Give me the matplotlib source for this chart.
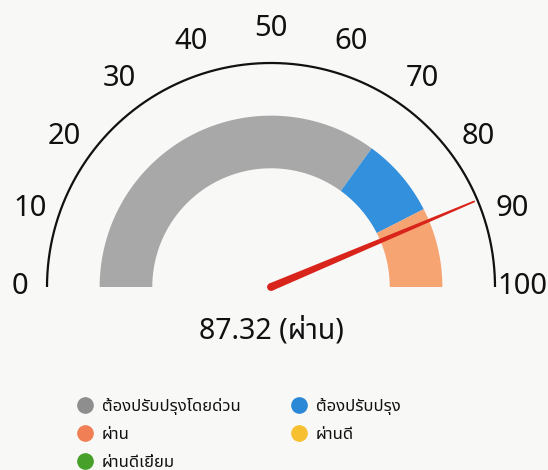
import numpy as np
import matplotlib
matplotlib.use("Agg")
import matplotlib.pyplot as plt
from matplotlib.patches import Polygon, Circle
from matplotlib.lines import Line2D

plt.rcParams['font.family'] = ['Noto Sans Thai', 'Noto Sans', 'DejaVu Sans']

# ---- data ----
band_starts = [0, 70, 85]
band_ends = [70, 85, 100]
band_colors = ['#a8a8a8', '#3290dc', '#f6a472']
value = 87.32
status = 'ผ่าน'
tick_values = [0, 10, 20, 30, 40, 50, 60, 70, 80, 90, 100]
tick_labels = ['0', '10', '20', '30', '40', '50', '60', '70', '80', '90', '100']
legend_labels = ['ต้องปรับปรุงโดยด่วน', 'ต้องปรับปรุง', 'ผ่าน', 'ผ่านดี', 'ผ่านดีเยี่ยม']
legend_colors = ['#8e8e8e', '#2a88d6', '#f07f55', '#f6c030', '#46a02a']
vmin, vmax = 0, 100

W, H = 548, 470
fig = plt.figure(figsize=(W / 100, H / 100), dpi=100)
fig.patch.set_facecolor('#f8f8f7')
ax = fig.add_axes([0, 0, 1, 1])
ax.set_facecolor('#f8f8f7')
cx_px, cy_px, R_px = 271, 287, 224
ax.set_xlim(-cx_px / R_px, (W - cx_px) / R_px)
ax.set_ylim((cy_px - H) / R_px, cy_px / R_px)
ax.axis('off')


def ang(v):
    return np.pi * (1 - (v - vmin) / (vmax - vmin))


r_in, r_out = 0.53, 0.765
for s, e, c in zip(band_starts, band_ends, band_colors):
    t = np.linspace(ang(s), ang(e), 80)
    xs = np.concatenate([r_out * np.cos(t), r_in * np.cos(t[::-1])])
    ys = np.concatenate([r_out * np.sin(t), r_in * np.sin(t[::-1])])
    ax.fill(xs, ys, color=c, lw=0, zorder=2)

# outer arc
t = np.linspace(ang(vmin), ang(vmax), 300)
ax.plot(np.cos(t), np.sin(t), color='#111111', lw=1.6, zorder=3, solid_capstyle='butt')

# tick labels
for v, lab in zip(tick_values, tick_labels):
    a = ang(v)
    rr = (251 + 8 * np.sin(a)) / R_px
    ax.text(rr * np.cos(a), rr * np.sin(a), lab, ha='center', va='center',
            fontsize=21, color='#111111', zorder=4)

# needle
a = ang(value)
d = np.array([np.cos(a), np.sin(a)])
p = np.array([-d[1], d[0]])
L = 0.987
w0, w1 = 3.9 / R_px, 0.9 / R_px
needle = Polygon([p * w0, d * L + p * w1, d * L - p * w1, -p * w0],
                 closed=True, color='#d9241b', lw=0, zorder=5)
ax.add_patch(needle)
ax.add_patch(Circle((0, 0), w0, color='#d9241b', lw=0, zorder=5))

# value label
ax.text(0, -44 / R_px, f'{value:.2f} ({status})', ha='center', va='center',
        fontsize=20.5, color='#111111', zorder=4)

# legend (column-major order to get row layout of reference)
order = [0, 2, 4, 1, 3]
handles = [Line2D([], [], ls='none', marker='o', markersize=11,
                  markerfacecolor=legend_colors[i], markeredgecolor=legend_colors[i])
           for i in order]
labels = [legend_labels[i] for i in order]
fs = 12
fig.legend(handles, labels, loc='upper left', ncol=2, frameon=False,
           bbox_to_anchor=(77 / W, 1 - 398 / H), bbox_transform=fig.transFigure,
           fontsize=fs, handlelength=1.0, handletextpad=0.5, columnspacing=3.0,
           labelspacing=0.72, borderpad=0, borderaxespad=0, labelcolor='#111111')

fig.savefig('out.png', dpi=100, facecolor=fig.get_facecolor())
